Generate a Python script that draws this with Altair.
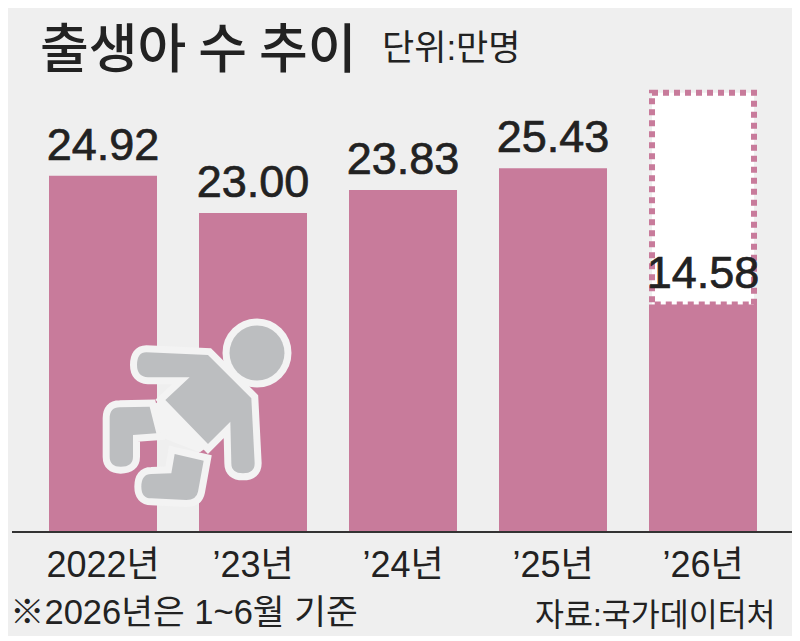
import altair as alt
import pandas as pd

# values as printed on the chart
years = ["2022년", "’23년", "’24년", "’25년", "’26년"]
labels = ["24.92", "23.00", "23.83", "25.43", "14.58"]
# bar lengths (the drawn bars are not quite to scale)
drawn = [24.9, 22.3, 23.9, 25.43, 15.9]
box_year = ["’26년"]
box_top = [30.7]
box_bottom = [15.9]

BAR = "#c87b9b"
BG = "#efefef"
INK = "#222222"
NUM_FONT = "Liberation Sans, Noto Sans CJK KR"
KR_FONT = "Noto Sans CJK KR"

# baby icon, unit = 1/3 of 100 px
ICON_SIZE = 4444
TORSO = ("M -1.10 -1.43 L 0.75 -1.35 L 2.05 -0.05 L 2.15 1.9 Q 2.15 2.2 1.8 2.2 "
         "Q 1.45 2.2 1.45 1.9 L 1.42 0.65 L 0.75 1.32 L -0.53 0 L 0.2 -0.68 L -1.05 -0.68 "
         "Q -1.38 -0.7 -1.38 -1.05 Q -1.38 -1.43 -1.10 -1.43 Z")
LEG = ("M -1.9 0.22 L -1.0 0.2 L -0.8 1.0 L -1.5 1.05 L -1.5 1.7 Q -1.5 2.0 -1.87 2.0 "
       "Q -2.2 2.0 -2.2 1.7 L -2.2 0.55 Q -2.2 0.22 -1.9 0.22 Z")
FOOT = ("M -0.25 1.62 L 0.62 1.82 L 0.45 2.75 Q 0.4 3.0 0.1 3.0 L -0.95 2.95 "
        "Q -1.25 2.95 -1.25 2.6 Q -1.25 2.22 -0.95 2.22 L -0.35 2.2 Z")
DIAPER = "M -0.53 0 L 0.75 1.32 L 0.5 1.5 L -0.8 1.0 L -0.95 0.25 Z"

df = pd.DataFrame({"year": years, "label": labels, "drawn": drawn})
box_df = pd.DataFrame({"year": box_year, "top": box_top, "bottom": box_bottom})

x_scale = alt.Scale(domain=years, range=[20, 770], paddingInner=0.28, paddingOuter=0.14)
y_scale = alt.Scale(domain=[0, 31.45], nice=False)
x = alt.X("year:N", title=None, scale=x_scale, axis=alt.Axis(
    domain=False, ticks=False, labelAngle=0, labelFontSize=36, labelFont=NUM_FONT,
    labelColor=INK, labelPadding=16, grid=False))
y = alt.Y("drawn:Q", title=None, scale=y_scale, axis=None)

box = alt.Chart(box_df).mark_bar(
    size=102, fill="#ffffff", stroke=BAR, strokeWidth=6, strokeDash=[6, 5]
).encode(x=x, y=alt.Y("top:Q", title=None, scale=y_scale, axis=None), y2="bottom:Q")

bars = alt.Chart(df).mark_bar(color=BAR).encode(x=x, y=y)

values = alt.Chart(df).mark_text(
    font=NUM_FONT, fontSize=45, color=INK, stroke=INK, strokeWidth=0.7,
    baseline="alphabetic", dy=-16
).encode(x=x, y=y, text="label:N")


def icon(shape, color, width=0, px=183, py=318, size=ICON_SIZE):
    return alt.Chart(pd.DataFrame({"a": [0]})).mark_point(
        shape=shape, filled=True, fill=color, stroke=color, strokeWidth=width, opacity=1,
        size=size
    ).encode(x=alt.value(px - 8), y=alt.value(py))


OUTLINE = "#f3f3f3"
GRAY = "#bcbec0"
head_kw = dict(px=257, py=271, size=3019)
baby = [
    icon("circle", OUTLINE, 14, **head_kw),
    icon(TORSO, OUTLINE, 14),
    icon(LEG, OUTLINE, 14),
    icon(FOOT, OUTLINE, 14),
    icon(DIAPER, OUTLINE, 4),
    icon("circle", GRAY, **head_kw),
    icon(TORSO, GRAY),
    icon(LEG, GRAY),
    icon(FOOT, GRAY),
]

axis_line = alt.Chart(pd.DataFrame({"zero": [0]})).mark_rule(color="#333333", strokeWidth=2).encode(
    x=alt.value(4), x2=alt.value(792), y=alt.Y("zero:Q", title=None, scale=y_scale, axis=None)
)


def note(text, px, py, size, font=NUM_FONT, weight="normal"):
    return alt.Chart(pd.DataFrame({"t": [text]})).mark_text(
        font=font, fontSize=size, fontWeight=weight, color=INK, align="left", baseline="alphabetic"
    ).encode(x=alt.value(px - 8), y=alt.value(py - 82), text="t:N")


chart = alt.layer(
    box, bars, values, *baby, axis_line,
    note("출생아 수 추이", 40, 68, 53, font=KR_FONT, weight=500),
    note("단위:만명", 382, 60, 35),
    note("※2026년은 1~6월 기준", 10, 624, 34.5),
    note("자료:국가데이터처", 535, 626, 31.5),
).properties(
    width=784,
    height=450,
    padding={"left": 0, "right": 0, "top": 74, "bottom": 104},
    autosize=alt.AutoSizeParams(type="none"),
    background=BG,
).configure_view(stroke=None)

chart.save("out.html", embed_options={"renderer": "svg", "actions": False})
